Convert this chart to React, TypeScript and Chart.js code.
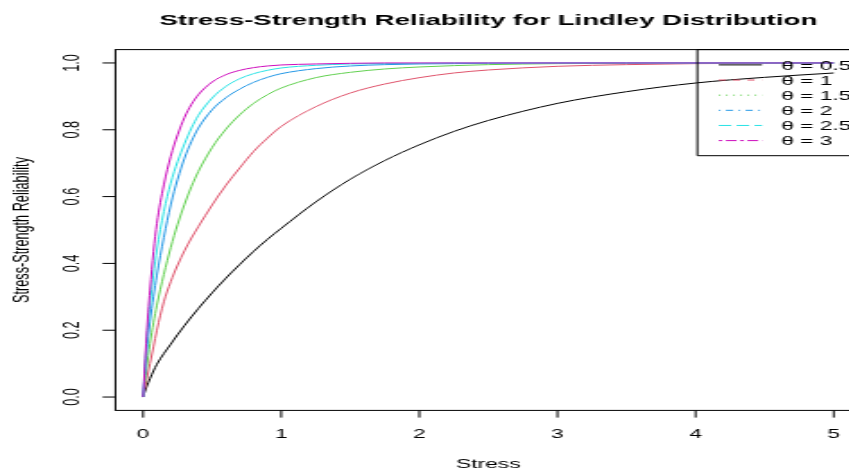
import { useEffect, useRef } from "react";
import { Chart, registerables } from "chart.js";

Chart.register(...registerables);

// ---- data ----
const stress = [0, 0.025, 0.05, 0.075, 0.1, 0.15, 0.2, 0.25, 0.3, 0.35, 0.4, 0.5, 0.6, 0.7, 0.8, 0.9, 1, 1.25, 1.5, 1.75, 2, 2.25, 2.5, 3, 3.5, 4, 4.5, 5];
const theta05 = [0, 0.03, 0.055, 0.078, 0.098, 0.13, 0.158, 0.187, 0.214, 0.24, 0.265, 0.312, 0.356, 0.397, 0.436, 0.472, 0.505, 0.584, 0.652, 0.708, 0.755, 0.795, 0.828, 0.879, 0.914, 0.94, 0.957, 0.97];
const theta1 = [0, 0.05, 0.1, 0.15, 0.2, 0.285, 0.345, 0.395, 0.438, 0.476, 0.51, 0.575, 0.634, 0.686, 0.735, 0.775, 0.81, 0.869, 0.91, 0.937, 0.956, 0.97, 0.979, 0.99, 0.995, 0.998, 0.999, 1];
const theta15 = [0, 0.085, 0.16, 0.222, 0.275, 0.367, 0.447, 0.517, 0.577, 0.63, 0.675, 0.747, 0.802, 0.845, 0.879, 0.905, 0.925, 0.956, 0.972, 0.982, 0.988, 0.992, 0.995, 0.998, 0.999, 1, 1, 1];
const theta2 = [0, 0.13, 0.225, 0.3, 0.365, 0.478, 0.575, 0.652, 0.715, 0.765, 0.805, 0.86, 0.896, 0.922, 0.942, 0.957, 0.968, 0.983, 0.991, 0.995, 0.997, 0.998, 0.999, 1, 1, 1, 1, 1];
const theta25 = [0, 0.16, 0.275, 0.365, 0.44, 0.555, 0.64, 0.705, 0.758, 0.805, 0.843, 0.895, 0.93, 0.953, 0.968, 0.978, 0.985, 0.993, 0.997, 0.998, 0.999, 1, 1, 1, 1, 1, 1, 1];
const theta3 = [0, 0.18, 0.32, 0.435, 0.52, 0.635, 0.72, 0.785, 0.837, 0.876, 0.905, 0.943, 0.965, 0.978, 0.986, 0.991, 0.994, 0.997, 0.999, 1, 1, 1, 1, 1, 1, 1, 1, 1];

const seriesLabels = ["θ = 0.5", "θ = 1", "θ = 1.5", "θ = 2", "θ = 2.5", "θ = 3"];
const seriesColors = ["#000000", "#DF536B", "#61D04F", "#2297E6", "#28E2E5", "#CD0BBC"];
const seriesDashes: number[][] = [[], [4, 4], [1, 3], [1, 3, 4, 3], [7, 3], [2, 2, 6, 2]];
const xTicks = [0, 1, 2, 3, 4, 5];
const xTickLabels = ["0", "1", "2", "3", "4", "5"];
const yTicks = [0, 0.2, 0.4, 0.6, 0.8, 1.0];
const yTickLabels = ["0.0", "0.2", "0.4", "0.6", "0.8", "1.0"];
const titleText = "Stress-Strength Reliability for Lindley Distribution";
const xTitle = "Stress";
const yTitle = "Stress-Strength Reliability";

// ---- geometry (internal canvas is stretched horizontally like the reference) ----
const STRETCH = 1.791;
const W = 490;
const H = 472;
const FONT = "Liberation Sans, Arial, Helvetica, sans-serif";
const FS = 12.7;

const rAxesPlugin = {
  id: "rAxes",
  afterDraw(chart: any) {
    const ctx = chart.ctx as CanvasRenderingContext2D;
    const xs = chart.scales.x;
    const ys = chart.scales.y;
    const { left, right, top, bottom } = chart.chartArea;
    const tick = 7.2;
    ctx.save();
    ctx.strokeStyle = "#000";
    ctx.fillStyle = "#000";
    ctx.lineWidth = 1;
    ctx.setLineDash([]);
    // box
    ctx.strokeRect(left, top, right - left, bottom - top);

    // x axis ticks
    ctx.font = `${FS}px ${FONT}`;
    ctx.textAlign = "center";
    ctx.textBaseline = "alphabetic";
    xTicks.forEach((v, i) => {
      const px = xs.getPixelForValue(v);
      ctx.beginPath();
      ctx.moveTo(px, bottom);
      ctx.lineTo(px, bottom + tick);
      ctx.stroke();
      ctx.fillText(xTickLabels[i], px, 437.8);
    });

    // y axis ticks
    yTicks.forEach((v, i) => {
      const py = ys.getPixelForValue(v);
      ctx.beginPath();
      ctx.moveTo(left - tick, py);
      ctx.lineTo(left, py);
      ctx.stroke();
      ctx.save();
      ctx.translate(44.3, py);
      ctx.rotate(-Math.PI / 2);
      ctx.textAlign = "center";
      ctx.fillText(yTickLabels[i], 0, 0);
      ctx.restore();
    });

    // axis titles
    const cx = (left + right) / 2;
    const cy = (top + bottom) / 2;
    ctx.fillText(xTitle, cx, 467.8);
    ctx.save();
    ctx.translate(15.8, cy);
    ctx.rotate(-Math.PI / 2);
    ctx.fillText(yTitle, 0, 0);
    ctx.restore();

    // main title
    ctx.font = `bold 15.45px ${FONT}`;
    ctx.fillText(titleText, cx, 24.5);

    // legend
    const lgLeft = 389.2;
    const lgTop = top;
    const rowH = 15.14;
    const firstRow = top + 15.3;
    const lgBottom = firstRow + rowH * 5 + 15.1;
    ctx.beginPath();
    ctx.rect(lgLeft, lgTop, right - lgLeft, lgBottom - lgTop);
    ctx.stroke();
    ctx.font = `${FS}px ${FONT}`;
    ctx.textAlign = "left";
    seriesLabels.forEach((lab, i) => {
      const y = firstRow + rowH * i;
      ctx.save();
      ctx.strokeStyle = seriesColors[i];
      ctx.setLineDash(seriesDashes[i]);
      ctx.beginPath();
      ctx.moveTo(401.1, y);
      ctx.lineTo(425.3, y);
      ctx.stroke();
      ctx.restore();
      ctx.fillText(lab, 436, y + 4.8);
    });
    ctx.restore();
  },
};

export default function App() {
  const ref = useRef<HTMLCanvasElement | null>(null);

  useEffect(() => {
    document.body.style.margin = "0";
    const canvas = ref.current;
    if (!canvas) return;
    const datasets = [theta05, theta1, theta15, theta2, theta25, theta3].map((vals, i) => ({
      label: seriesLabels[i],
      data: stress.map((x, j) => ({ x, y: vals[j] })),
      borderColor: seriesColors[i],
      backgroundColor: seriesColors[i],
      borderWidth: 1,
      pointRadius: 0,
      fill: false,
      cubicInterpolationMode: "monotone" as const,
      order: 5 - i,
    }));
    const chart = new Chart(canvas, {
      type: "line",
      data: { datasets },
      options: {
        responsive: false,
        animation: false,
        devicePixelRatio: 1,
        events: [],
        layout: {
          padding: { left: 64.43, right: W - 480.7, top: 49.6, bottom: H - 410.4 },
        },
        scales: {
          x: { type: "linear", min: -0.2, max: 5.2, display: false },
          y: { type: "linear", min: -0.04, max: 1.04, display: false },
        },
        plugins: {
          legend: { display: false },
          tooltip: { enabled: false },
          title: { display: false },
        },
      },
      plugins: [rAxesPlugin],
    });
    return () => chart.destroy();
  }, []);

  return (
    <div
      style={{
        position: "fixed",
        left: 0,
        top: 0,
        width: 849,
        height: 472,
        overflow: "hidden",
        background: "#fff",
      }}
    >
      <canvas
        ref={ref}
        width={W}
        height={H}
        style={{ display: "block", width: `${W * STRETCH}px`, height: `${H}px` }}
      />
    </div>
  );
}
